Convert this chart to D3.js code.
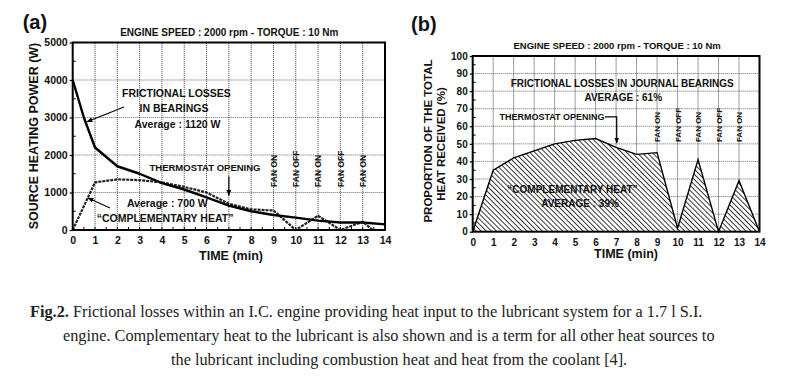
<!DOCTYPE html>
<html><head><meta charset="utf-8">
<script src="https://cdn.jsdelivr.net/npm/d3@7/dist/d3.min.js"></script>
<style>body{margin:0;background:#fff}svg{display:block}</style>
</head><body>
<svg id="c" width="800" height="383"></svg>
<script>
// ---- data ----
const timeTicks = d3.range(0, 15);
const powerTicks = [0, 1000, 2000, 3000, 4000, 5000];
const pctTicks = d3.range(0, 101, 10);
const frictionTime = [0, 0.5, 1, 2, 3, 4, 5, 6, 7, 8, 9, 10, 11, 12, 13, 14];
const frictionW    = [4000, 3000, 2200, 1700, 1500, 1250, 1080, 870, 650, 500, 400, 330, 250, 200, 200, 150];
const complTime = [0, 1, 2, 3, 4, 5, 6, 7, 8, 9, 10, 11, 12, 13, 13.45, 14];
const complW    = [0, 1270, 1350, 1330, 1270, 1150, 1000, 700, 550, 520, 0, 380, 0, 220, 0, 0];
const pctTime = [0, 1, 2, 3, 4, 5, 6, 7, 8, 9, 10, 11, 12, 13, 14];
const complPct = [0, 35, 42, 46, 50, 52, 53, 48, 44, 45, 2, 41, 0, 29, 0];
const fanTimes = [9, 10, 11, 12, 13];
const fanLabels = ["FAN ON", "FAN OFF", "FAN ON", "FAN OFF", "FAN ON"];
const titleText = "ENGINE SPEED : 2000 rpm - TORQUE : 10 Nm";
const captionLines = [
  ["Fig.2.", " Frictional losses within an I.C. engine providing heat input to the lubricant system for a 1.7 l S.I."],
  ["", "engine. Complementary heat to the lubricant is also shown and is a term for all other heat sources to"],
  ["", "the lubricant including combustion heat and heat from the coolant [4]."]
];

const svg = d3.select("#c");
const SANS = "'Liberation Sans', Arial, Helvetica, sans-serif";
const SERIF = "'Liberation Serif', 'Times New Roman', serif";

const defs = svg.append("defs");
const pat = defs.append("pattern").attr("id", "hatch").attr("patternUnits", "userSpaceOnUse")
  .attr("width", 3.6).attr("height", 3.6).attr("patternTransform", "rotate(-45)");
pat.append("rect").attr("width", 3.6).attr("height", 3.6).attr("fill", "#fff");
pat.append("line").attr("x1", 0.5).attr("y1", 0).attr("x2", 0.5).attr("y2", 3.6)
  .attr("stroke", "#222").attr("stroke-width", 0.9);

defs.append("marker").attr("id", "arr").attr("viewBox", "0 0 10 10").attr("refX", 9).attr("refY", 5)
  .attr("markerWidth", 5).attr("markerHeight", 5).attr("orient", "auto")
  .append("path").attr("d", "M0,1 L10,5 L0,9 Z").attr("fill", "#000");

function txt(g, x, y, s, size, opts = {}) {
  return g.append("text").attr("x", x).attr("y", y).text(s)
    .attr("font-family", opts.family || SANS).attr("font-size", size)
    .attr("font-weight", opts.weight || "bold").attr("text-anchor", opts.anchor || "middle")
    .attr("fill", "#111");
}

function panel(cfg) {
  const g = svg.append("g");
  const x = d3.scaleLinear().domain([0, 14]).range(cfg.xr);
  const y = d3.scaleLinear().domain(cfg.yd).range(cfg.yr);
  // grid
  g.append("g").selectAll("line").data(timeTicks.slice(1, -1)).join("line")
    .attr("x1", d => x(d)).attr("x2", d => x(d)).attr("y1", y.range()[0]).attr("y2", y.range()[1])
    .attr("stroke", "#333").attr("stroke-width", 0.8).attr("stroke-dasharray", "1.2,0.8");
  g.append("g").selectAll("line").data(cfg.yt.slice(1, -1)).join("line")
    .attr("x1", x(0)).attr("x2", x(14)).attr("y1", d => y(d)).attr("y2", d => y(d))
    .attr("stroke", "#444").attr("stroke-width", 0.8).attr("stroke-dasharray", "1,1");
  // axes
  const xa = g.append("g").attr("transform", `translate(0,${y.range()[0]})`)
    .call(d3.axisBottom(x).tickValues(timeTicks).tickSize(0).tickPadding(cfg.xpad).tickFormat(d3.format("d")));
  const ya = g.append("g").attr("transform", `translate(${x(0)},0)`)
    .call(d3.axisLeft(y).tickValues(cfg.yt).tickSize(cfg.ytick).tickPadding(cfg.ypad).tickFormat(d3.format("d")));
  [xa, ya].forEach(a => {
    a.select(".domain").remove();
    a.selectAll("text").attr("font-family", SANS).attr("font-weight", "bold")
      .attr("font-size", cfg.tickSize).attr("fill", "#111");
    a.selectAll("line").attr("stroke", "#000").attr("stroke-width", 1.2);
  });
  // minor ticks
  g.append("g").selectAll("line").data(d3.range(0.5, 14, 0.5)).join("line")
    .attr("x1", d => x(d)).attr("x2", d => x(d)).attr("y1", y.range()[0]).attr("y2", y.range()[0] - 3)
    .attr("stroke", "#000").attr("stroke-width", 1);
  g.append("g").selectAll("line").data(cfg.ym).join("line")
    .attr("x1", x(0)).attr("x2", x(0) + 3).attr("y1", d => y(d)).attr("y2", d => y(d))
    .attr("stroke", "#000").attr("stroke-width", 1);
  return { g, x, y };
}

// ---- panel (a) ----
const A = panel({ xr: [72.7, 385], yd: [0, 5000], yr: [230, 42.5], yt: powerTicks,
  ym: d3.range(500, 5000, 1000), ytick: 3, ypad: 2, xpad: 7, tickSize: 10.5 });
{
  const { g, x, y } = A;
  const fr = frictionTime.map((t, i) => [t, frictionW[i]]);
  const co = complTime.map((t, i) => [t, complW[i]]);
  const line = d3.line().x(d => x(d[0])).y(d => y(d[1]));
  g.append("path").attr("d", line(co)).attr("fill", "none").attr("stroke", "#222")
    .attr("stroke-width", 2.2).attr("stroke-dasharray", "3,1");
  g.append("path").attr("d", line(fr)).attr("fill", "none").attr("stroke", "#000")
    .attr("stroke-width", 2.4).attr("stroke-linejoin", "round");
  g.append("rect").attr("x", x(0)).attr("y", y(5000)).attr("width", x(14) - x(0)).attr("height", y(0) - y(5000))
    .attr("fill", "none").attr("stroke", "#000").attr("stroke-width", 2);
  txt(svg, 22.7, 29, "(a)", 20, { anchor: "start" });
  txt(svg, x(7.02), 36, titleText, 10);
  txt(g, x(4.65), y(3547), "FRICTIONAL LOSSES", 10.5);
  txt(g, x(4.54), y(3155), "IN BEARINGS", 10.5);
  txt(g, x(4.7), y(2720), "Average : 1120 W", 10.5);
  txt(g, x(5.93), y(1581), "THERMOSTAT OPENING", 9.5);
  txt(g, x(4.24), y(621), "Average : 700 W", 10.5);
  txt(g, x(4.14), y(221), "\u201CCOMPLEMENTARY HEAT\u201D", 10.5);
  const arrow = (t1, v1, t2, v2) => g.append("line").attr("x1", x(t1)).attr("y1", y(v1))
    .attr("x2", x(t2)).attr("y2", y(v2)).attr("stroke", "#000").attr("stroke-width", 1.2).attr("marker-end", "url(#arr)");
  arrow(2.3, 3280, 0.64, 2888);
  arrow(7, 1430, 7, 920);
  arrow(1.67, 587, 0.69, 853);
  fanTimes.forEach((t, i) => {
    g.append("text").attr("transform", `translate(${x(t) + 3.2},${y(1150)}) rotate(-90)`)
      .text(fanLabels[i]).attr("font-family", SANS).attr("font-weight", "bold").attr("font-size", 8.5).attr("fill", "#111");
  });
  g.append("text").attr("transform", `translate(38,136) rotate(-90)`).text("SOURCE HEATING POWER (W)")
    .attr("font-family", SANS).attr("font-weight", "bold").attr("font-size", 12.5).attr("text-anchor", "middle").attr("fill", "#111");
  txt(g, 231, 259.5, "TIME (min)", 12.5);
}

// ---- panel (b) ----
const B = panel({ xr: [472.7, 759.5], yd: [0, 100], yr: [231.7, 56], yt: pctTicks,
  ym: d3.range(5, 100, 10), ytick: 3, ypad: 2, xpad: 7, tickSize: 10 });
{
  const { g, x, y } = B;
  const pts = pctTime.map((t, i) => [t, complPct[i]]);
  const area = d3.area().x(d => x(d[0])).y0(y(0)).y1(d => y(d[1]));
  const line = d3.line().x(d => x(d[0])).y(d => y(d[1]));
  g.append("path").attr("d", area(pts)).attr("fill", "url(#hatch)");
  g.append("path").attr("d", line(pts)).attr("fill", "none").attr("stroke", "#000").attr("stroke-width", 1.4);
  g.append("rect").attr("x", x(0)).attr("y", y(100)).attr("width", x(14) - x(0)).attr("height", y(0) - y(100))
    .attr("fill", "none").attr("stroke", "#000").attr("stroke-width", 2);
  txt(svg, 411, 31, "(b)", 20, { anchor: "start" });
  txt(svg, x(7.05), 48.5, titleText, 9.5);
  txt(g, x(7.3), y(82.4), "FRICTIONAL LOSSES IN JOURNAL BEARINGS", 10);
  txt(g, x(7.35), y(74.6), "AVERAGE : 61%", 10);
  txt(g, x(3.87), y(63.6), "THERMOSTAT OPENING", 9);
  g.append("path").attr("d", `M${x(6.45)},${y(65.3)} H${x(7.03)} V${y(50.5)}`)
    .attr("fill", "none").attr("stroke", "#000").attr("stroke-width", 1.2).attr("marker-end", "url(#arr)");
  txt(g, x(4.87), y(22.2), "\u201CCOMPLEMENTARY HEAT\u201D", 10);
  txt(g, x(5.24), y(14.2), "AVERAGE : 39%", 10);
  fanTimes.forEach((t, i) => {
    g.append("text").attr("transform", `translate(${x(t) + 3},${y(51)}) rotate(-90)`)
      .text(fanLabels[i]).attr("font-family", SANS).attr("font-weight", "bold").attr("font-size", 8).attr("fill", "#111");
  });
  g.append("text").attr("transform", `translate(432,141) rotate(-90)`).text("PROPORTION OF THE TOTAL")
    .attr("font-family", SANS).attr("font-weight", "bold").attr("font-size", 11.5).attr("text-anchor", "middle").attr("fill", "#111");
  g.append("text").attr("transform", `translate(445,144) rotate(-90)`).text("HEAT RECEIVED (%)")
    .attr("font-family", SANS).attr("font-weight", "bold").attr("font-size", 11.5).attr("text-anchor", "middle").attr("fill", "#111");
  txt(g, 626, 257.5, "TIME (min)", 12.5);
}

// ---- caption ----
const capX = [30, 63, 171];
const capY = [316.5, 340.5, 364.5];
captionLines.forEach((ln, i) => {
  const t = svg.append("text").attr("x", capX[i]).attr("y", capY[i])
    .attr("font-family", SERIF).attr("font-size", 16.3).attr("fill", "#222");
  if (ln[0]) t.append("tspan").attr("font-weight", "bold").text(ln[0]);
  t.append("tspan").text(ln[1]);
});
</script>
</body></html>
